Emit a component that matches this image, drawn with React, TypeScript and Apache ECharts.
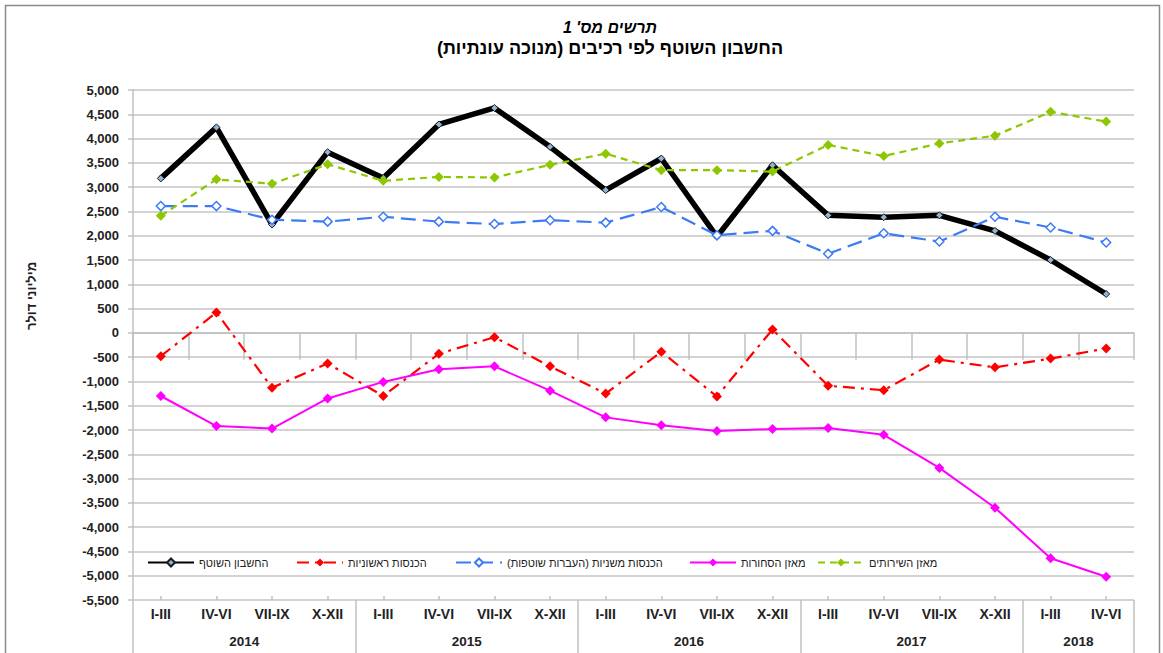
import React, { useEffect, useRef } from "react";
import * as echarts from "echarts";

const RLM = "\u200F";

const quarters = [
  "I-III", "IV-VI", "VII-IX", "X-XII",
  "I-III", "IV-VI", "VII-IX", "X-XII",
  "I-III", "IV-VI", "VII-IX", "X-XII",
  "I-III", "IV-VI", "VII-IX", "X-XII",
  "I-III", "IV-VI",
];
const years = ["2014", "2015", "2016", "2017", "2018"];
const yearQuarterCounts = [4, 4, 4, 4, 2];

const seriesNames = [
  "החשבון השוטף",
  "הכנסות ראשוניות",
  "הכנסות משניות (העברות שוטפות)" + RLM,
  "מאזן הסחורות",
  "מאזן השירותים",
];

const currentAccount = [3180, 4230, 2230, 3720, 3190, 4290, 4630, 3830, 2940, 3590, 1980, 3450, 2420, 2380, 2420, 2100, 1500, 800];
const primaryIncome = [-480, 420, -1130, -630, -1300, -430, -90, -690, -1250, -390, -1310, 70, -1090, -1180, -550, -710, -530, -320];
const secondaryIncome = [2610, 2610, 2330, 2290, 2390, 2290, 2240, 2320, 2270, 2590, 2010, 2100, 1630, 2050, 1880, 2390, 2170, 1860];
const goodsBalance = [-1300, -1920, -1970, -1350, -1010, -750, -690, -1190, -1740, -1900, -2020, -1980, -1960, -2100, -2780, -3600, -4640, -5020];
const servicesBalance = [2410, 3160, 3070, 3470, 3130, 3210, 3200, 3460, 3690, 3350, 3350, 3320, 3870, 3640, 3900, 4060, 4550, 4350];

const titleLine1 = "תרשים מס' 1";
const titleLine2 = "החשבון השוטף לפי רכיבים (מנוכה עונתיות)" + RLM;
const yAxisTitle = "מיליוני דולר";

const FONT = "'Liberation Sans', Arial, sans-serif";

export default function App() {
  const ref = useRef<HTMLDivElement>(null);

  useEffect(() => {
    if (!ref.current) return;
    const chart = echarts.init(ref.current, undefined, { renderer: "svg" });

    const halfCount = quarters.length * 2;
    const yearAxisData: string[] = [];
    const yearLabelIdx: number[] = [];
    const yearBoundaryIdx: number[] = [0];
    for (let i = 0; i <= halfCount; i++) yearAxisData.push("");
    let pos = 0;
    years.forEach((y, i) => {
      const span = yearQuarterCounts[i] * 2;
      const center = pos + span / 2;
      yearAxisData[center] = y;
      yearLabelIdx.push(center);
      pos += span;
      yearBoundaryIdx.push(pos);
    });

    const legendLefts = [147, 296, 455, 689, 817];

    const option: any = {
      animation: false,
      backgroundColor: "#ffffff",
      textStyle: { fontFamily: FONT },
      title: [
        {
          text: titleLine1,
          left: 605,
          top: 14,
          textAlign: "center",
          textStyle: { fontFamily: FONT, fontSize: 16, fontWeight: "bold", fontStyle: "italic", color: "#000" },
        },
        {
          text: titleLine2,
          left: 605,
          top: 34,
          textAlign: "center",
          textStyle: { fontFamily: FONT, fontSize: 18, fontWeight: "bold", color: "#000" },
        },
      ],
      legend: seriesNames.map((name, i) => ({
        data: [name],
        left: legendLefts[i],
        top: 557,
        itemWidth: 46,
        itemHeight: 10,
        padding: 0,
        selectedMode: false,
        textStyle: { fontFamily: FONT, fontSize: 11, color: "#222" },
      })),
      grid: { left: 133, right: 29, top: 90, bottom: 53, containLabel: false },
      xAxis: [
        {
          type: "category",
          data: quarters,
          boundaryGap: true,
          axisLine: { show: true, lineStyle: { color: "#c0c0c0", width: 1.5 } },
          axisTick: { show: true, alignWithLabel: false, interval: 0, length: 27, lineStyle: { color: "#c0c0c0", width: 1.5 } },
          axisLabel: { interval: 0, margin: 7, fontFamily: FONT, fontSize: 14, fontWeight: "bold", color: "#222" },
          splitLine: { show: false },
        },
        {
          type: "category",
          data: yearAxisData,
          boundaryGap: false,
          position: "bottom",
          axisLine: { show: false },
          axisTick: {
            show: true,
            interval: (idx: number) => yearBoundaryIdx.indexOf(idx) >= 0,
            length: 55,
            lineStyle: { color: "#c0c0c0", width: 1.5 },
          },
          axisLabel: {
            interval: (idx: number) => yearLabelIdx.indexOf(idx) >= 0,
            margin: 34,
            fontFamily: FONT,
            fontSize: 13.5,
            fontWeight: "bold",
            color: "#222",
          },
          splitLine: { show: false },
        },
        {
          type: "category",
          data: quarters,
          boundaryGap: true,
          position: "bottom",
          axisLine: { show: false },
          axisTick: { show: true, alignWithLabel: true, interval: 0, inside: true, length: 4, lineStyle: { color: "#c0c0c0", width: 1.5 } },
          axisLabel: { show: false },
          splitLine: { show: false },
        },
      ],
      yAxis: {
        type: "value",
        min: -5500,
        max: 5000,
        interval: 500,
        axisLine: { show: true, lineStyle: { color: "#c0c0c0", width: 1.5 } },
        axisTick: { show: true, length: 5, lineStyle: { color: "#c0c0c0", width: 1.5 } },
        axisLabel: {
          margin: 14,
          fontFamily: FONT,
          fontSize: 13,
          fontWeight: "bold",
          color: "#222",
          formatter: (v: number) => v.toLocaleString("en-US"),
        },
        splitLine: { show: true, lineStyle: { color: "#c4c4c4", width: 1.5 } },
      },
      graphic: [
        {
          type: "rect",
          shape: { x: 5.5, y: 5.5, width: 1154, height: 700 },
          style: { fill: "none", stroke: "#8a8a8a", lineWidth: 1.5 },
          silent: true,
        },
        {
          type: "text",
          x: 31,
          y: 296,
          rotation: Math.PI / 2,
          style: {
            text: yAxisTitle,
            align: "center",
            verticalAlign: "middle",
            font: "bold 13px " + FONT,
            fill: "#222",
          },
          silent: true,
        },
      ],
      series: [
        {
          name: seriesNames[0],
          type: "line",
          data: currentAccount,
          symbol: "diamond",
          symbolSize: 7,
          lineStyle: { color: "#000000", width: 5.5 },
          itemStyle: { color: "#95b3d7", borderColor: "#1a1a1a", borderWidth: 1 },
          z: 2,
        },
        {
          name: seriesNames[1],
          type: "line",
          data: primaryIncome,
          symbol: "diamond",
          symbolSize: 10,
          lineStyle: { color: "#ff0000", width: 2.2, type: [12, 6, 3, 6] },
          itemStyle: { color: "#ff0000", borderColor: "#ff0000", borderWidth: 0 },
          z: 3,
        },
        {
          name: seriesNames[2],
          type: "line",
          data: secondaryIncome,
          symbol: "diamond",
          symbolSize: 9,
          lineStyle: { color: "#3d7bf5", width: 2.2, type: [15, 7] },
          itemStyle: { color: "#ffffff", borderColor: "#3d7bf5", borderWidth: 1.5 },
          z: 4,
        },
        {
          name: seriesNames[3],
          type: "line",
          data: goodsBalance,
          symbol: "diamond",
          symbolSize: 10,
          lineStyle: { color: "#ff00ff", width: 2 },
          itemStyle: { color: "#ff00ff", borderColor: "#ff00ff", borderWidth: 0 },
          z: 5,
        },
        {
          name: seriesNames[4],
          type: "line",
          data: servicesBalance,
          symbol: "diamond",
          symbolSize: 10,
          lineStyle: { color: "#8cc700", width: 2.2, type: [7, 5] },
          itemStyle: { color: "#8cc700", borderColor: "#8cc700", borderWidth: 0 },
          z: 6,
        },
      ],
    };

    chart.setOption(option);
    return () => chart.dispose();
  }, []);

  return (
    <div
      ref={ref}
      style={{ position: "fixed", left: 0, top: 0, width: 1163, height: 653, background: "#fff" }}
    />
  );
}
